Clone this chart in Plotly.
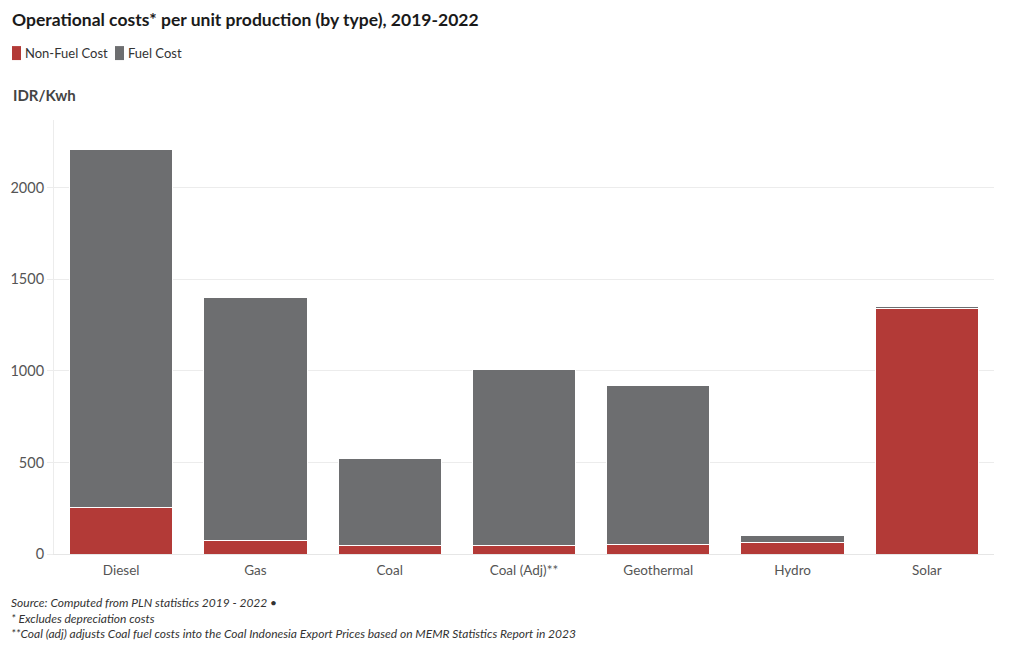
import plotly.graph_objects as go

categories = ["Diesel", "Gas", "Coal", "Coal (Adj)**", "Geothermal", "Hydro", "Solar"]
non_fuel = [254, 75, 46, 46, 53, 62, 1343]
fuel = [1956, 1325, 475, 961, 867, 41, 6]
y_ticks = [0, 500, 1000, 1500, 2000]
series_names = ["Non-Fuel Cost", "Fuel Cost"]

RED = "#b33a37"
GREY = "#6d6e70"
FONT = "Lato"

fig = go.Figure()
fig.add_trace(go.Bar(x=categories, y=non_fuel, name=series_names[0],
                     marker=dict(color=RED, line=dict(color="white", width=1))))
fig.add_trace(go.Bar(x=categories, y=fuel, name=series_names[1],
                     marker=dict(color=GREY, line=dict(color="white", width=1))))

W, H = 1020, 650
L, R, T, B = 54, 26, 120, 95.5
ph = H - T - B
pw = W - L - R


def px(xp):
    return (xp - L) / pw


def py(yp):
    return (H - B - yp) / ph


fig.update_layout(
    width=W, height=H, barmode="stack", bargap=0.23,
    plot_bgcolor="white", paper_bgcolor="white",
    margin=dict(l=L, r=R, t=T, b=B, autoexpand=False),
    font=dict(family=FONT, color="#555", size=13),
    title=dict(text="<b>Operational costs* per unit production (by type), 2019-2022</b>",
               x=12 / W, xanchor="left", y=1 - 20 / H, yanchor="middle",
               font=dict(family=FONT, size=17.5, color="#1a1a1a")),
    showlegend=False,
    xaxis=dict(showgrid=False, showline=True, linecolor="#e6e6e6", linewidth=1,
               ticks="outside", ticklen=4, tickcolor="rgba(0,0,0,0)",
               tickfont=dict(size=13.5, color="#555"), fixedrange=True),
    yaxis=dict(range=[0, 2370], tickvals=y_ticks, showgrid=True, gridcolor="#ececec",
               gridwidth=1, zeroline=False, showline=True, linecolor="#ececec",
               ticks="outside", ticklen=6, tickcolor="#ececec",
               tickfont=dict(size=14.5, color="#555"), fixedrange=True),
)

# Legend (manual, to match tight swatch/text spacing)
legend_x = [12, 115]
colors = [RED, GREY]
for name, lx, c in zip(series_names, legend_x, colors):
    fig.add_shape(type="rect", xref="paper", yref="paper",
                  x0=px(lx), x1=px(lx + 9), y0=py(60), y1=py(46),
                  fillcolor=c, line=dict(width=0), layer="above")
    fig.add_annotation(text=name, xref="paper", yref="paper",
                       x=px(lx + 11), y=py(53), xanchor="left", yanchor="middle",
                       showarrow=False, font=dict(family=FONT, size=13, color="#333"))

fig.add_annotation(text="<b>IDR/Kwh</b>", xref="paper", yref="paper",
                   x=px(11), y=py(95), xanchor="left", yanchor="middle",
                   showarrow=False, font=dict(family=FONT, size=15, color="#444"))

footer = ("Source: Computed from PLN statistics 2019 - 2022 \u2022<br>"
          "* Excludes depreciation costs<br>"
          "**Coal (adj) adjusts Coal fuel costs into the Coal Indonesia Export Prices based on MEMR Statistics Report in 2023")
fig.add_annotation(text="<i>" + footer + "</i>", xref="paper", yref="paper",
                   x=px(9), y=py(594), xanchor="left", yanchor="top",
                   align="left", showarrow=False,
                   font=dict(family=FONT, size=12, color="#333"))

fig.write_html("out.html", config={"displayModeBar": False})
